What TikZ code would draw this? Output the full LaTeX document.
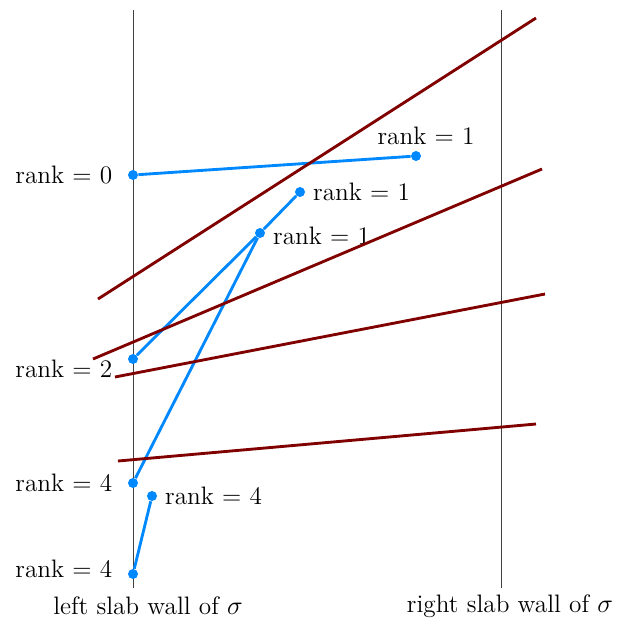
\documentclass[tikz,border=0pt]{standalone}
\usepackage{tikz}
\usetikzlibrary{positioning}
\definecolor{cutRed}{RGB}{128,0,0}
\definecolor{rankBlue}{RGB}{0,136,255}

\begin{document}
\begin{tikzpicture}[x=0.016cm, y=-0.016cm, font=\fontsize{11.5}{14}\selectfont,
    dot/.style={circle, fill=rankBlue, inner sep=0pt, minimum size=0.16cm},
    rankedge/.style={rankBlue, line width=1.3pt},
    cutline/.style={cutRed, line width=1.3pt},
    node distance=0.12cm]
    \useasboundingbox (0,0) rectangle (622,621);
    % slab walls
    \coordinate (LT) at (133,10); \coordinate (LB) at (133,588);
    \coordinate (RT) at (501,10); \coordinate (RB) at (501,588);
    \draw[black!75, thin] (LT) -- (LB);
    \draw[black!75, thin] (RT) -- (RB);
    \node (lwall) at (148,606) {left slab wall of $\sigma$};
    \node (rwall) at (510,606) {right slab wall of $\sigma$};
    % vertices and their ranks
    \node[dot] (A) at (133,175) {}; \node[left=of A] (Alab) {rank = 0};
    \node[dot] (B) at (416,156) {}; \node[above=-1pt of B, xshift=0.16cm] (Blab) {rank = 1};
    \node[dot] (C) at (300,192) {}; \node[right=0pt of C] (Clab) {rank = 1};
    \node[dot] (D) at (260,233) {}; \node[right=0pt of D, yshift=-0.05cm] (Dlab) {rank = 1};
    \node[dot] (E) at (133,359) {}; \node[left=of E, yshift=-0.16cm] (Elab) {rank = 2};
    \node[dot] (F) at (133,483) {}; \node[left=of F] (Flab) {rank = 4};
    \node[dot] (G) at (152,496) {}; \node[right=0pt of G] (Glab) {rank = 4};
    \node[dot] (H) at (133,574) {}; \node[left=of H, yshift=0.08cm] (Hlab) {rank = 4};
    \draw[rankedge] (A) -- (B);
    \draw[rankedge] (C) -- (D);
    \draw[rankedge] (D) -- (E);
    \draw[rankedge] (D) -- (F);
    \draw[rankedge] (G) -- (H);
    % cutting lines
    \draw[cutline] (98,299) -- (536,18);
    \draw[cutline] (93,359) -- (542,169);
    \draw[cutline] (115,377) -- (545,294);
    \draw[cutline] (118,461) -- (536,424);
\end{tikzpicture}
\end{document}
